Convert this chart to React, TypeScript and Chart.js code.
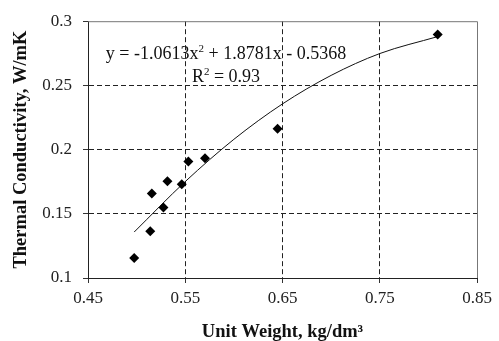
import React, { useEffect, useRef } from "react";
import { Chart, registerables } from "chart.js";

Chart.register(...registerables);

const UNIT_WEIGHT = [0.4975, 0.514, 0.5156, 0.5276, 0.5317, 0.5464, 0.5532, 0.5703, 0.6449, 0.8096];
const CONDUCTIVITY = [0.1156, 0.1365, 0.1659, 0.1549, 0.1753, 0.173, 0.1907, 0.1932, 0.2162, 0.2897];

const TREND_X = [0.4975, 0.55, 0.6, 0.65, 0.7, 0.75, 0.81];
const TREND_Y = [0.1358, 0.1751, 0.208, 0.2356, 0.2578, 0.2748, 0.2881];

const X_TICKS = [0.45, 0.55, 0.65, 0.75, 0.85];
const Y_TICKS = [0.1, 0.15, 0.2, 0.25, 0.3];

// [text, isSuperscript]
const EQUATION: [string, boolean][] = [
  ["y = -1.0613x", false],
  ["2", true],
  [" + 1.8781x - 0.5368", false],
];
const R_SQUARED: [string, boolean][] = [
  ["R", false],
  ["2", true],
  [" = 0.93", false],
];
const LABEL_X = 0.5919;
const EQ_Y = 0.2704;
const R2_Y = 0.2523;

const X_TITLE = "Unit Weight, kg/dm\u00b3";
const Y_TITLE = "Thermal Conductivity, W/mK";

const FONT = "'Liberation Serif', 'Times New Roman', serif";

export default function App() {
  const ref = useRef<HTMLCanvasElement | null>(null);

  useEffect(() => {
    document.body.style.margin = "0";
    const canvas = ref.current;
    if (!canvas) return;

    const drawRich = (ctx: CanvasRenderingContext2D, parts: [string, boolean][], cx: number, y: number) => {
      const main = `18px ${FONT}`;
      const sup = `11px ${FONT}`;
      let total = 0;
      for (const [t, s] of parts) {
        ctx.font = s ? sup : main;
        total += ctx.measureText(t).width;
      }
      let x = cx - total / 2;
      ctx.textAlign = "left";
      ctx.textBaseline = "alphabetic";
      for (const [t, s] of parts) {
        ctx.font = s ? sup : main;
        ctx.fillText(t, x, s ? y - 7 : y);
        x += ctx.measureText(t).width;
      }
    };

    const framePlugin = {
      id: "frame",
      afterDatasetsDraw(chart: any) {
        const { ctx, chartArea: a, scales } = chart;
        ctx.save();
        ctx.strokeStyle = "#777";
        ctx.lineWidth = 1;
        ctx.beginPath();
        ctx.moveTo(a.left, a.top + 0.5);
        ctx.lineTo(a.right + 0.5, a.top + 0.5);
        ctx.lineTo(a.right + 0.5, a.bottom);
        ctx.stroke();
        ctx.fillStyle = "#111";
        const px = scales.x.getPixelForValue(LABEL_X);
        drawRich(ctx, EQUATION, px, scales.y.getPixelForValue(EQ_Y));
        drawRich(ctx, R_SQUARED, px, scales.y.getPixelForValue(R2_Y));
        ctx.restore();
      },
    };

    const gridColor = (ctx: any) => {
      const n = ctx.scale && ctx.scale.ticks ? ctx.scale.ticks.length : 0;
      if (ctx.index === 0 || ctx.index === n - 1) return "rgba(0,0,0,0)";
      return "#222";
    };

    const chart = new Chart(canvas, {
      type: "scatter",
      data: {
        datasets: [
          {
            label: "data",
            data: UNIT_WEIGHT.map((x, i) => ({ x, y: CONDUCTIVITY[i] })),
            pointStyle: "rectRot",
            pointRadius: 5,
            pointBorderWidth: 0,
            backgroundColor: "#000",
            borderColor: "#000",
            order: 1,
          },
          {
            type: "line",
            label: "trend",
            data: TREND_X.map((x, i) => ({ x, y: TREND_Y[i] })),
            showLine: true,
            pointRadius: 0,
            borderColor: "#111",
            borderWidth: 1,
            fill: false,
            cubicInterpolationMode: "monotone",
            order: 2,
          } as any,
        ],
      },
      options: {
        animation: false,
        responsive: false,
        maintainAspectRatio: false,
        layout: { padding: { top: 17, right: 22, left: 0, bottom: 0 } },
        plugins: {
          legend: { display: false },
          tooltip: { enabled: false },
        },
        scales: {
          x: {
            type: "linear",
            min: 0.45,
            max: 0.85,
            afterBuildTicks: (s: any) => {
              s.ticks = X_TICKS.map((v) => ({ value: v }));
            },
            afterFit: (s: any) => {
              s.height = 63;
            },
            ticks: {
              callback: (v: any) => String(v),
              font: { family: FONT, size: 17 },
              color: "#222",
              padding: 5,
              maxRotation: 0,
              autoSkip: false,
            },
            grid: {
              color: gridColor,
              tickColor: "#333",
              tickLength: 5,
              lineWidth: 1,
            },
            border: { display: true, color: "#222", width: 1, dash: [5, 3] },
            title: {
              display: true,
              text: X_TITLE,
              color: "#111",
              font: { family: FONT, size: 18.5, weight: "bold" },
              padding: { top: 0, bottom: -2 },
            },
          },
          y: {
            type: "linear",
            min: 0.1,
            max: 0.3,
            afterBuildTicks: (s: any) => {
              s.ticks = Y_TICKS.map((v) => ({ value: v }));
            },
            afterFit: (s: any) => {
              s.width = 88;
            },
            ticks: {
              callback: (v: any) => String(v),
              font: { family: FONT, size: 17 },
              color: "#222",
              padding: 11,
              autoSkip: false,
            },
            grid: {
              color: gridColor,
              tickColor: "#333",
              tickLength: 5,
              lineWidth: 1,
            },
            border: { display: true, color: "#222", width: 1, dash: [5, 3] },
            title: {
              display: true,
              text: Y_TITLE,
              color: "#111",
              font: { family: FONT, size: 18.5, weight: "bold" },
              padding: { top: 10, bottom: 0 },
            },
          },
        },
      },
      plugins: [framePlugin],
    });

    return () => chart.destroy();
  }, []);

  return (
    <div style={{ position: "fixed", left: 0, top: 0, width: 499, height: 341, background: "#fff" }}>
      <canvas ref={ref} width={499} height={341} style={{ display: "block", width: 499, height: 341 }} />
    </div>
  );
}
